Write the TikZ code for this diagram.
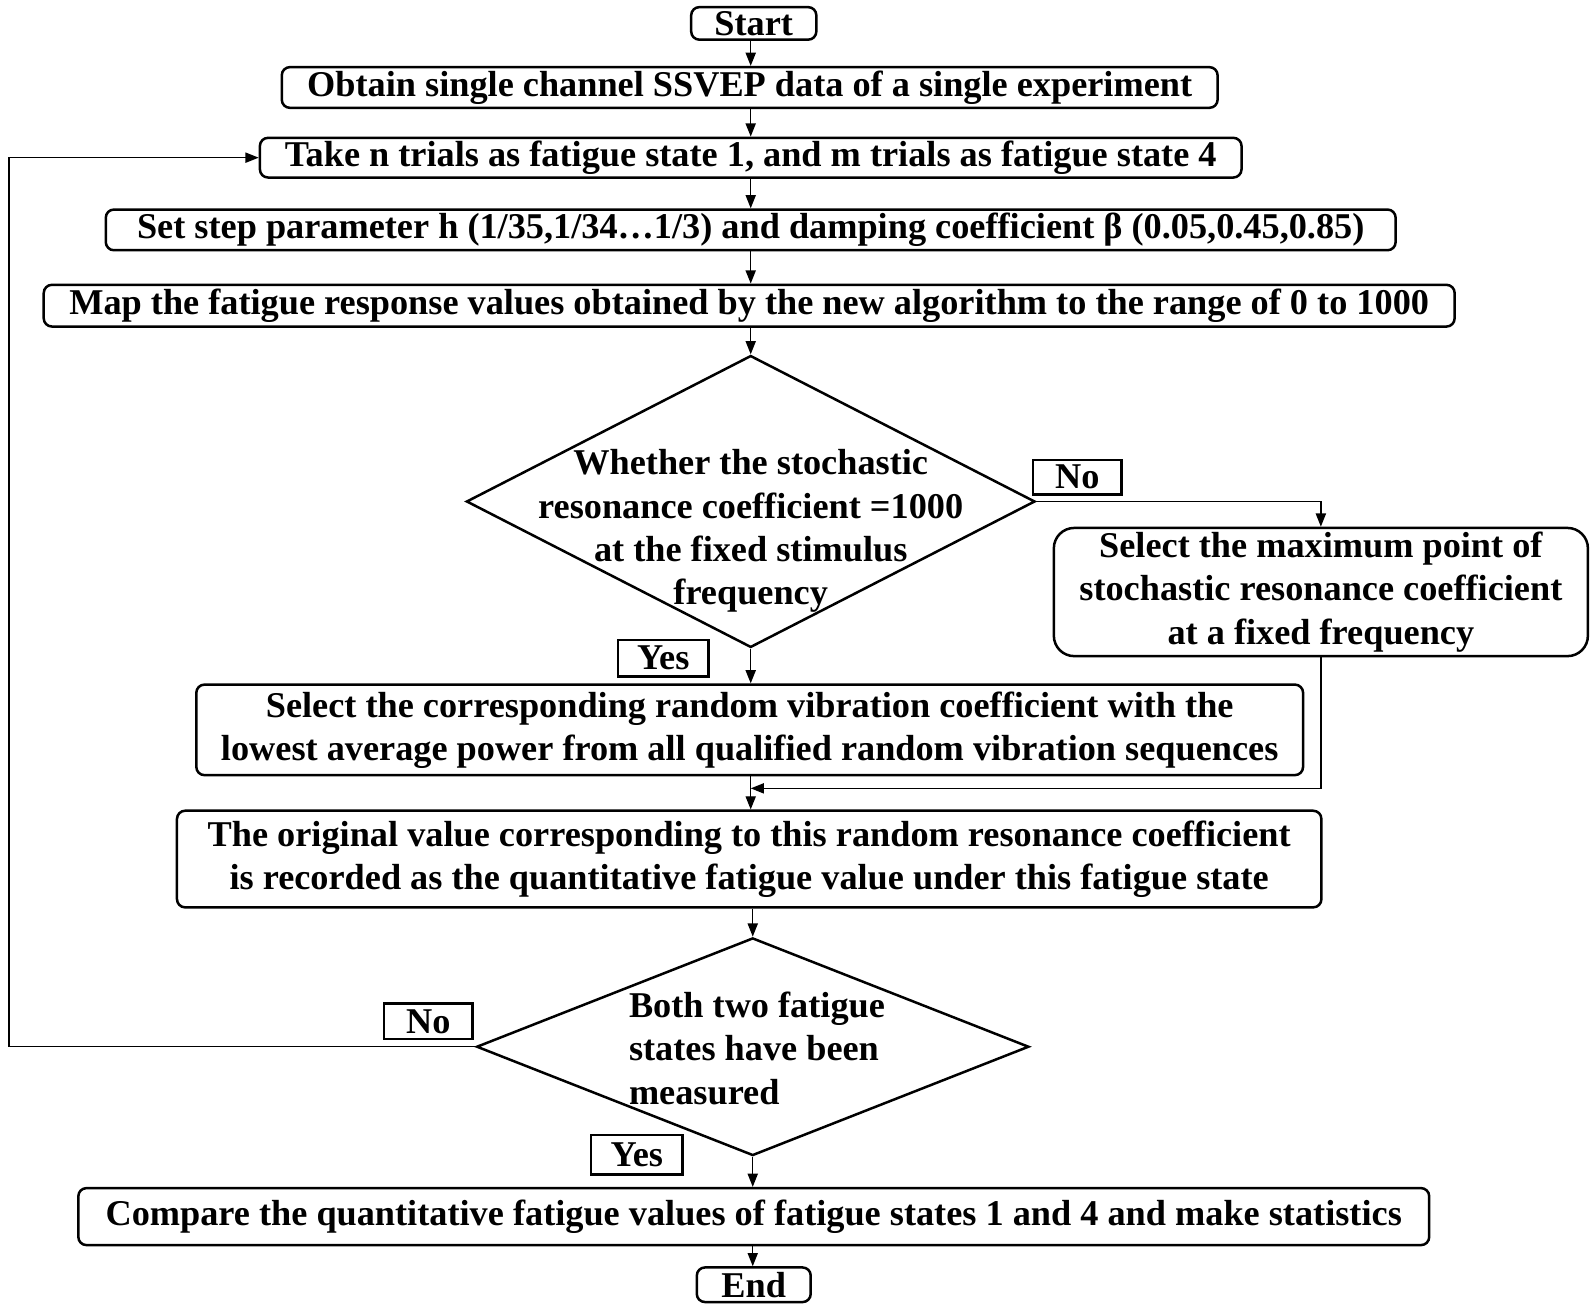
\documentclass[tikz,border=0pt]{standalone}
\usepackage{fontspec}
\setmainfont{Liberation Serif}
\usetikzlibrary{shapes.geometric,arrows.meta,calc}
\newcommand{\uu}{0.02cm}
\tikzset{
  every node/.style={font=\fontsize{20.3}{24.2}\selectfont\bfseries},
  pbox/.style={draw, line width=1.4pt, rounded corners=0.16cm, align=center, inner sep=0pt},
  lbl/.style={draw, line width=1.3pt, inner sep=0pt},
  dmd/.style={draw, line width=1.4pt, diamond, inner sep=0pt},
  arr/.style={line width=0.8pt, -{Triangle[length=0.26cm,width=0.2cm]}},
  ln/.style={line width=0.8pt},
}
\begin{document}
\begin{tikzpicture}[x=0.02cm,y=-0.02cm]
\useasboundingbox (0,0) rectangle (1568,1288);
\node[pbox, minimum width=123*\uu, minimum height=32*\uu] (start) at (741,23) {Start};
\node[pbox, minimum width=920*\uu, minimum height=40*\uu] (obtain) at (737,86) {Obtain single channel SSVEP data of a single experiment};
\node[pbox, minimum width=965*\uu, minimum height=39*\uu] (take) at (738,155) {Take n trials as fatigue state 1, and m trials as fatigue state 4};
\node[pbox, minimum width=1268*\uu, minimum height=40*\uu] (setp) at (738,226) {Set step parameter h (1/35,1/34\ldots1/3) and damping coefficient β (0.05,0.45,0.85)};
\node[pbox, minimum width=1387*\uu, minimum height=41*\uu] (map) at (736.5,300.5) {Map the fatigue response values obtained by the new algorithm to the range of 0 to 1000};
\node[dmd, minimum width=559*\uu, minimum height=287*\uu] (d1) at (738,493) {};
\node[align=center, inner sep=0pt] (d1t) at (738,522) {Whether the stochastic\\resonance coefficient =1000\\at the fixed stimulus\\frequency};
\node[lbl, minimum width=87*\uu, minimum height=34*\uu] (no1) at (1059,469) {No};
\node[pbox, rounded corners=0.4cm, minimum width=525*\uu, minimum height=126*\uu] (selmax) at (1298.5,582) {Select the maximum point of\\stochastic resonance coefficient\\at a fixed frequency};
\node[lbl, minimum width=89*\uu, minimum height=36*\uu] (yes1) at (652,647) {Yes};
\node[pbox, minimum width=1088*\uu, minimum height=89*\uu] (selcorr) at (737,717.5) {Select the corresponding random vibration coefficient with the\\lowest average power from all qualified random vibration sequences};
\node[pbox, minimum width=1125*\uu, minimum height=95*\uu] (orig) at (736.5,844.5) {The original value corresponding to this random resonance coefficient\\is recorded as the quantitative fatigue value under this fatigue state};
\node[dmd, minimum width=543*\uu, minimum height=214*\uu] (d2) at (740,1029) {};
\node[align=left, inner sep=0pt, anchor=north west] (d2t) at (618,975) {Both two fatigue\\states have been\\measured};
\node[lbl, minimum width=87*\uu, minimum height=35*\uu] (no2) at (421,1004) {No};
\node[lbl, minimum width=90*\uu, minimum height=39*\uu] (yes2) at (626,1135) {Yes};
\node[pbox, minimum width=1328*\uu, minimum height=56*\uu] (cmp) at (741,1196) {Compare the quantitative fatigue values of fatigue states 1 and 4 and make statistics};
\node[pbox, minimum width=112*\uu, minimum height=34*\uu] (end) at (741,1263) {End};
\coordinate (merge) at (738,775);
\coordinate (loop) at (9,1029);
\draw[arr] (start.south -| 738,0) -- (obtain.north -| 738,0);
\draw[arr] (obtain.south -| 738,0) -- (take.north -| 738,0);
\draw[arr] (take.south -| 738,0) -- (setp.north -| 738,0);
\draw[arr] (setp.south -| 738,0) -- (map.north -| 738,0);
\draw[arr] (map.south -| 738,0) -- (d1.north);
\draw[arr] (d1.east) -| (selmax.north);
\draw[arr] (d1.south) -- (selcorr.north -| d1.south);
\draw[ln] (selcorr.south -| 738,0) -- (merge);
\draw[arr] (selmax.south) |- (merge);
\draw[arr] (merge) -- (orig.north -| 738,0);
\draw[arr] (orig.south -| d2.north) -- (d2.north);
\draw[arr] (d2.west) -- (loop) |- (take.west);
\draw[arr] (d2.south) -- (cmp.north -| d2.south);
\draw[arr] (cmp.south -| d2.south) -- (end.north -| d2.south);
\end{tikzpicture}
\end{document}
